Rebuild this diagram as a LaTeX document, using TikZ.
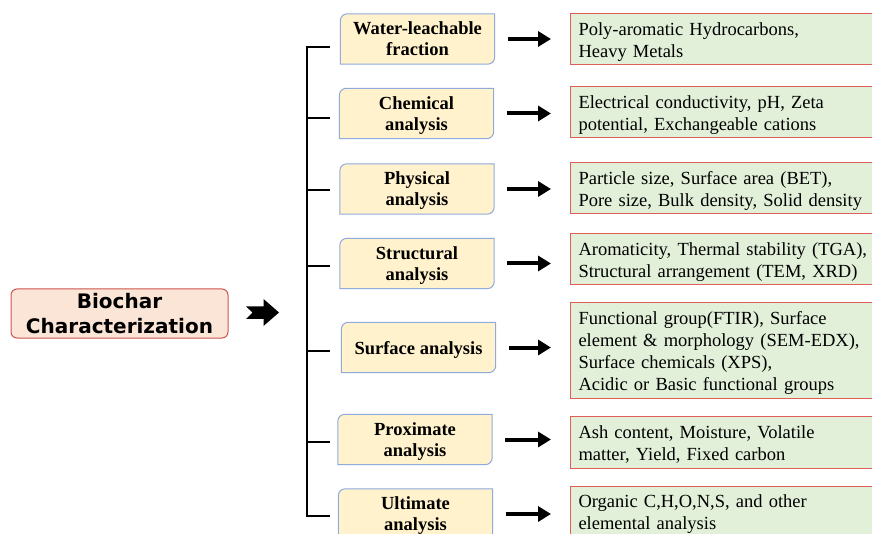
\documentclass[tikz,border=0pt]{standalone}
\usepackage{fontspec}
\setmainfont{Liberation Serif}
\newfontfamily\headfont{DejaVu Sans}
\usetikzlibrary{arrows.meta,backgrounds}

\definecolor{bcfill}{RGB}{251,229,214}
\definecolor{bcline}{RGB}{205,85,80}
\definecolor{midfill}{RGB}{255,242,204}
\definecolor{midline}{RGB}{143,170,220}
\definecolor{detfill}{RGB}{226,240,217}
\definecolor{detline}{RGB}{222,95,88}

\tikzset{
  topic/.style={minimum width=154pt,minimum height=50pt,inner sep=0pt,align=center,
    text depth=0pt,font=\fontsize{18.5}{21}\selectfont\bfseries},
  detail/.style={anchor=west,fill=detfill,draw=detline,line width=1pt,
    text width=300pt,inner xsep=8pt,minimum height=51pt,align=left,
    text height=18pt,font=\fontsize{18.5}{22}\selectfont},
  midframe/.style={fill=midfill,draw=midline,line width=1pt},
  arr/.style={-{Triangle[length=13pt,width=15pt]},line width=4pt,
    shorten <=13pt,shorten >=19pt},
  brace/.style={line width=2pt}
}

\begin{document}
\begin{tikzpicture}[x=1pt,y=1pt]
\useasboundingbox (0,0) rectangle (872,-534);

% main topic
\path (119.5,-313.5) node[draw=bcline,fill=bcfill,line width=1pt,rounded corners=6pt,
      minimum width=217pt,minimum height=49pt,align=center,
      font=\headfont\bfseries\fontsize{20}{25}\selectfont] (bc) {Biochar\\Characterization};
% block arrow
\fill (246,-306.5) -- (263.5,-306.5) -- (263.5,-299) -- (279,-312.5) -- (263.5,-326)
      -- (263.5,-319) -- (246,-319) -- (252.5,-312.5) -- cycle;

% kinds of analysis
\path (417.5,-39)   node[topic] (wl) {Water-leachable\\fraction}
      (416.5,-113.5) node[topic] (ch) {Chemical\\analysis}
      (417,-189)    node[topic] (ph) {Physical\\analysis}
      (417,-263.5)  node[topic] (st) {Structural\\analysis}
      (418.5,-347.5) node[topic] (sf) {Surface analysis}
      (415,-439.5)  node[topic] (px) {Proximate\\analysis}
      (415.5,-514)  node[topic] (ul) {Ultimate\\analysis};

% what each one measures
\path (570,-39.5) node[detail] (wld) {Poly-aromatic Hydrocarbons,\\Heavy Metals}
      (570,-112)  node[detail] (chd) {Electrical conductivity, pH, Zeta\\potential, Exchangeable cations}
      (570,-188)  node[detail] (phd) {Particle size, Surface area (BET),\\Pore size, Bulk density, Solid density}
      (570,-259)  node[detail] (std) {Aromaticity, Thermal stability (TGA),\\Structural arrangement (TEM, XRD)}
      (570,-350.5) node[detail,minimum height=95pt] (sfd) {Functional group(FTIR), Surface\\element \& morphology (SEM-EDX),\\Surface chemicals (XPS),\\Acidic or Basic functional groups}
      (570,-442)  node[detail,minimum height=52pt] (pxd) {Ash content, Moisture, Volatile\\matter, Yield, Fixed carbon}
      (570,-511.5) node[detail] (uld) {Organic C,H,O,N,S, and other\\elemental analysis};

% frames with two rounded corners
\begin{scope}[on background layer]
\foreach \n in {wl,ch,ph,st,sf,px,ul}
  \draw[midframe] ([xshift=7pt]\n.north west) -- (\n.north east)
    -- ([yshift=7pt]\n.south east) arc[start angle=0,end angle=-90,radius=7pt]
    -- (\n.south west) -- ([yshift=-7pt]\n.north west)
    arc[start angle=180,end angle=90,radius=7pt] -- cycle;
\end{scope}

% bracket
\coordinate (top) at ([xshift=-33pt,yshift=-8pt]wl.west);
\coordinate (bot) at (top |- ul.west);
\draw[brace] ([xshift=23pt]top) -- (top) -- ([yshift=-2pt]bot) -- ([xshift=23pt,yshift=-2pt]bot);
\foreach \n/\dy in {ch/4.5,ph/1,st/2.5,sf/3.5,px/2.5}
  \draw[brace] (top |- \n.west) ++(0,-\dy) -- ++(23,0);

\foreach \n in {wl,ch,ph,st,sf,px,ul}
  \draw[arr] (\n.east) -- (\n.east -| \n d.west);
\end{tikzpicture}
\end{document}
